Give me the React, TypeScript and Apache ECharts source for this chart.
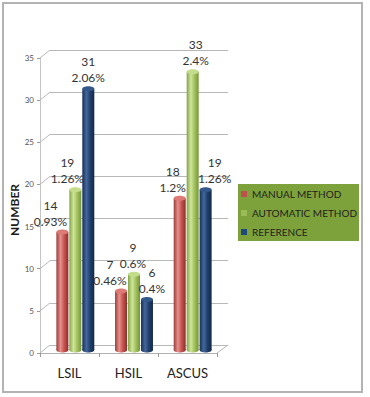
import React, { useEffect, useRef } from "react";
import * as echarts from "echarts";

// Cytology counts by lesion type, with each count's share as a percentage
const categories = ["LSIL", "HSIL", "ASCUS"];
const seriesNames = ["MANUAL METHOD", "AUTOMATIC METHOD", "REFERENCE"];
const manualCounts = [14, 7, 18];
const automaticCounts = [19, 9, 33];
const referenceCounts = [31, 6, 19];
const manualPct = ["0.93%", "0.46%", "1.2%"];
const automaticPct = ["1.26%", "0.6%", "2.4%"];
const referencePct = ["2.06%", "0.4%", "1.26%"];
const yMin = 0;
const yMax = 35;
const yStep = 5;

// layout: front axes, back wall (perspective offset) and the bar plane
const FRONT = { left: 40, top: 58, width: 177, height: 295 };
const BACK = { left: 50, top: 50, width: 178, height: 295 };
const BARS = { left: 46, top: 55, width: 176, height: 295 };
const BAR_WIDTH = 12;
const BAR_GAP_RATIO = 0.08;
const labelShift = [
  [-12, -11, -7],
  [-8, -1, 3],
  [0, 5, 9],
];

const palettes = [
  { base: "#c0504d", cap: "#de7a76", stops: ["#9c3b38", "#e5918d", "#c9524e", "#8a302d"] },
  { base: "#9bbb59", cap: "#c3dd8a", stops: ["#84a446", "#cfe69b", "#a2c25e", "#76953a"] },
  { base: "#1f497d", cap: "#34588a", stops: ["#17315a", "#44679b", "#203f6c", "#122746"] },
];

const FONT = "Lato, 'Open Sans', sans-serif";

function cylinderFill(stops: string[]) {
  return new echarts.graphic.LinearGradient(0, 0, 1, 0, [
    { offset: 0, color: stops[0] },
    { offset: 0.35, color: stops[1] },
    { offset: 0.65, color: stops[2] },
    { offset: 1, color: stops[3] },
  ]);
}

export default function App() {
  const ref = useRef<HTMLDivElement>(null);

  useEffect(() => {
    if (!ref.current) return;
    const chart = echarts.init(ref.current, undefined, { renderer: "svg" });

    const counts = [manualCounts, automaticCounts, referenceCounts];
    const pcts = [manualPct, automaticPct, referencePct];
    const slot = BAR_WIDTH * (1 + BAR_GAP_RATIO);

    const barSeries: any[] = counts.map((vals, s) => ({
      type: "bar",
      name: seriesNames[s],
      xAxisIndex: 2,
      yAxisIndex: 2,
      barWidth: BAR_WIDTH,
      barGap: `${BAR_GAP_RATIO * 100}%`,
      z: 3,
      itemStyle: { color: cylinderFill(palettes[s].stops) },
      label: {
        show: true,
        position: "top",
        distance: 3,
        fontFamily: FONT,
        fontSize: 12,
        lineHeight: 16,
        color: "#333333",
        formatter: (p: any) => `${p.value}\n${pcts[s][p.dataIndex]}`,
      },
      data: vals.map((v, i) => ({ value: v, label: { offset: [labelShift[s][i], 0] } })),
    }));

    // elliptical top and bottom of every cylinder
    const capSeries: any[] = counts.map((vals, s) => ({
      type: "custom",
      name: seriesNames[s] + " caps",
      xAxisIndex: 2,
      yAxisIndex: 2,
      z: 4,
      silent: true,
      encode: { x: 0, y: 1 },
      data: vals.map((v, i) => [i, v]),
      renderItem: (_params: any, api: any) => {
        const top = api.coord([api.value(0), api.value(1)]);
        const bottom = api.coord([api.value(0), 0]);
        const cx = top[0] + (s - 1) * slot;
        const rx = BAR_WIDTH / 2;
        return {
          type: "group",
          children: [
            {
              type: "ellipse",
              shape: { cx, cy: bottom[1], rx, ry: 2.5 },
              style: { fill: cylinderFill(palettes[s].stops) },
            },
            {
              type: "ellipse",
              shape: { cx, cy: top[1], rx, ry: 2.5 },
              style: { fill: palettes[s].cap },
            },
          ],
        };
      },
    }));

    const valueAxisBase = { type: "value", min: yMin, max: yMax, interval: yStep };

    chart.setOption({
      animation: false,
      grid: [
        { ...FRONT, containLabel: false },
        { ...BACK, containLabel: false },
        { ...BARS, containLabel: false },
      ],
      xAxis: [
        {
          type: "category",
          gridIndex: 0,
          data: categories,
          axisLine: { lineStyle: { color: "#b0b0b0", width: 1 } },
          axisTick: { show: true, interval: 0, length: 4, lineStyle: { color: "#9a9a9a" } },
          axisLabel: { margin: 13, fontFamily: FONT, fontSize: 13, color: "#222222" },
        },
        { type: "category", gridIndex: 1, data: categories, show: false },
        { type: "category", gridIndex: 2, data: categories, show: false },
      ],
      yAxis: [
        {
          ...valueAxisBase,
          gridIndex: 0,
          axisLine: { show: true, lineStyle: { color: "#c4c4c4", width: 1 } },
          axisTick: { show: true, length: 3, lineStyle: { color: "#9a9a9a" } },
          axisLabel: { margin: 6, fontFamily: FONT, fontSize: 8, color: "#555555" },
          splitLine: { show: false },
        },
        {
          ...valueAxisBase,
          gridIndex: 1,
          axisLine: { show: false },
          axisTick: { show: false },
          axisLabel: { show: false },
          splitLine: { show: true, lineStyle: { color: "#b8b8b8", width: 1 } },
        },
        { ...valueAxisBase, gridIndex: 2, show: false },
      ],
      legend: {
        left: 241,
        top: 189,
        orient: "vertical",
        padding: 0,
        itemWidth: 6,
        itemHeight: 6,
        itemGap: 9,
        icon: "rect",
        textStyle: { fontFamily: FONT, fontSize: 10, lineHeight: 10, color: "#1e1e1e" },
        data: seriesNames.map((n, s) => ({ name: n, itemStyle: { color: palettes[s].base } })),
      },
      series: [...barSeries, ...capSeries],
    });

    // perspective connectors between the front axis and the back wall
    const graphics: any[] = [];
    for (let v = yMin; v <= yMax; v += yStep) {
      const yf = chart.convertToPixel({ yAxisIndex: 0 }, v) as number;
      const yb = chart.convertToPixel({ yAxisIndex: 1 }, v) as number;
      graphics.push({
        type: "line",
        silent: true,
        z: 1,
        shape: { x1: FRONT.left, y1: yf, x2: BACK.left, y2: yb },
        style: { stroke: "#b8b8b8", lineWidth: 1 },
      });
    }
    const y0f = chart.convertToPixel({ yAxisIndex: 0 }, yMin) as number;
    const y0b = chart.convertToPixel({ yAxisIndex: 1 }, yMin) as number;
    graphics.push({
      type: "line",
      silent: true,
      z: 1,
      shape: { x1: FRONT.left + FRONT.width, y1: y0f, x2: BACK.left + BACK.width, y2: y0b },
      style: { stroke: "#b8b8b8", lineWidth: 1 },
    });
    graphics.push({
      type: "rect",
      silent: true,
      z: 0,
      shape: { x: 238, y: 184, width: 121, height: 57 },
      style: { fill: "#7ea23b" },
    });
    graphics.push({
      type: "text",
      silent: true,
      x: 14,
      y: 210,
      rotation: Math.PI / 2,
      style: {
        text: "NUMBER",
        fontFamily: FONT,
        fontSize: 12,
        fontWeight: "bold",
        fill: "#1a1a1a",
        textAlign: "center",
        textVerticalAlign: "middle",
      },
    });
    graphics.push({
      type: "rect",
      silent: true,
      z: 10,
      shape: { x: 3, y: 3, width: 359, height: 389 },
      style: { fill: "none", stroke: "#b3b3b3", lineWidth: 2 },
    });
    chart.setOption({ graphic: graphics });

    return () => chart.dispose();
  }, []);

  return (
    <div
      ref={ref}
      style={{ position: "absolute", left: 0, top: 0, width: 370, height: 397, background: "#ffffff" }}
    />
  );
}
